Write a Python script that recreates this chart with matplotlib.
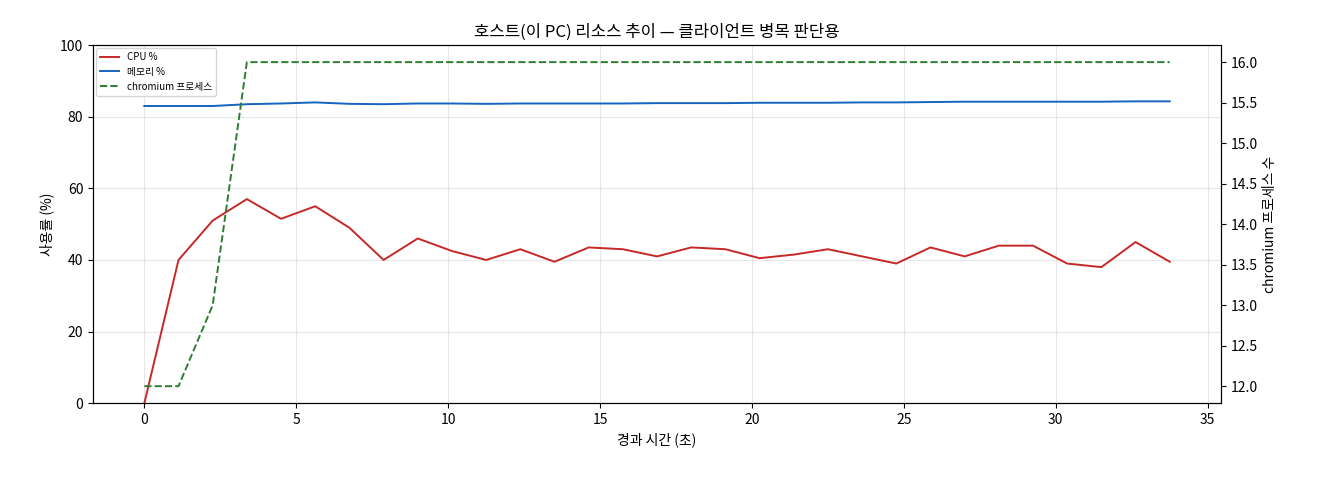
import matplotlib
matplotlib.use("Agg")
import matplotlib.pyplot as plt

plt.rcParams['font.family'] = ['Noto Sans CJK KR', 'DejaVu Sans']

elapsed = [i * 1.125 for i in range(31)]
cpu = [0, 40, 51, 57, 51.5, 55, 49, 40, 46, 42.5, 40, 43, 39.5, 43.5, 43, 41, 43.5, 43, 40.5, 41.5,
       43, 41, 39, 43.5, 41, 44, 44, 39, 38, 45, 39.5]
mem = [83, 83, 83, 83.5, 83.7, 84, 83.6, 83.5, 83.7, 83.7, 83.6, 83.7, 83.7, 83.7, 83.7, 83.8,
       83.8, 83.8, 83.9, 83.9, 83.9, 84, 84, 84.1, 84.2, 84.2, 84.2, 84.2, 84.2, 84.3, 84.3]
procs = [12, 12, 13] + [16] * 28

fig, ax = plt.subplots(figsize=(13.2, 4.8), dpi=100)
l1, = ax.plot(elapsed, cpu, color='#c62828', lw=1.4, label='CPU %')
l2, = ax.plot(elapsed, mem, color='#1565c0', lw=1.4, label='메모리 %')
ax.set_ylim(0, 100)
ax.set_xlabel('경과 시간 (초)')
ax.set_ylabel('사용률 (%)')
ax.grid(alpha=0.3)
ax2 = ax.twinx()
l3, = ax2.plot(elapsed, procs, color='#2e7d32', lw=1.4, ls='--', label='chromium 프로세스')
ax2.set_ylim(11.79, 16.21)
ax2.set_ylabel('chromium 프로세스 수')
ax.set_title('호스트(이 PC) 리소스 추이 — 클라이언트 병목 판단용')
ax.legend(handles=[l1, l2, l3], loc='upper left', fontsize=7, borderaxespad=0.3)
fig.subplots_adjust(left=0.0705, right=0.925, top=0.906, bottom=0.16)
fig.savefig('out.png')
